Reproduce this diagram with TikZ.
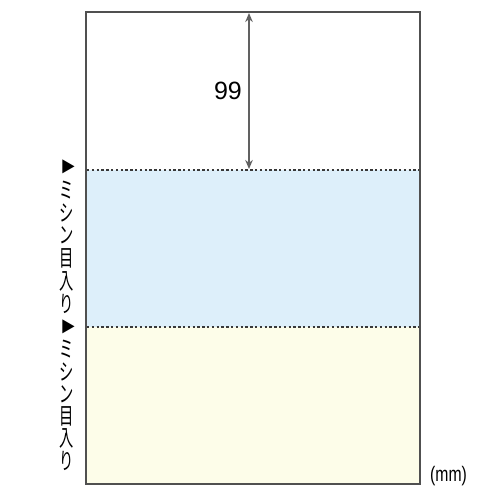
\documentclass[tikz,border=0pt]{standalone}
\usepackage{fontspec}
\setmainfont{Liberation Sans}
\newfontfamily\jpfont[FakeStretch=0.62]{Noto Sans CJK JP}
\newfontfamily\jpplain{Noto Sans CJK JP}
\newfontfamily\unitfont[FakeStretch=0.75]{Liberation Sans}
\usetikzlibrary{arrows.meta}
\definecolor{paperblue}{HTML}{DDEFFA}
\definecolor{paperyellow}{HTML}{FDFDE9}
\definecolor{edge}{HTML}{505050}
\tikzset{
  vch/.style={inner sep=0pt, font=\jpfont\fontsize{23}{23}\selectfont, text=black},
  tri/.style={inner sep=0pt, font=\jpplain\fontsize{15}{15}\selectfont, text=black},
  perf/.style={draw=edge!70!black, line width=1.3pt, dash pattern=on 2.4pt off 2.4pt},
  dim/.style={draw=edge!90, line width=2pt, {Stealth[length=9pt,width=7.5pt]}-{Stealth[length=9pt,width=7.5pt]}}
}
\begin{document}
\begin{tikzpicture}[x=1pt,y=-1pt]
\useasboundingbox (0,0) rectangle (500,500);
\fill[white] (0,0) rectangle (500,500);
% paper bands
\fill[paperblue] (86,170) rectangle (420,327);
\fill[paperyellow] (86,327) rectangle (420,484);
\draw[edge, line width=1.5pt] (86,12) rectangle (420,484);
% perforations
\coordinate (p1l) at (87,170); \coordinate (p1r) at (419,170);
\coordinate (p2l) at (87,327); \coordinate (p2r) at (419,327);
\draw[perf] (p1l) -- (p1r);
\draw[perf] (p2l) -- (p2r);
% dimension
\coordinate (dt) at (249,13);
\coordinate (db) at (249,169);
\draw[dim] (dt) -- (db);
\node[font=\fontsize{25}{25}\selectfont, inner sep=0pt] (d99) at (228,91) {99};
% vertical labels
\node[tri] (la1) at (68,167) {▶};
\node[tri] (lb1) at (68,327) {▶};
\foreach \c [count=\i from 2] in {ミ,シ,ン,目,入,り} {
  \node[vch] (la\i) at (67,167+22.8*\i-22.8) {\c};
  \node[vch] (lb\i) at (67,327+22.3*\i-22.3) {\c};
}
% unit
\node[inner sep=0pt, anchor=base, font=\unitfont\fontsize{21}{21}\selectfont] (unit) at (448.5,481.5) {(mm)};
\end{tikzpicture}
\end{document}
